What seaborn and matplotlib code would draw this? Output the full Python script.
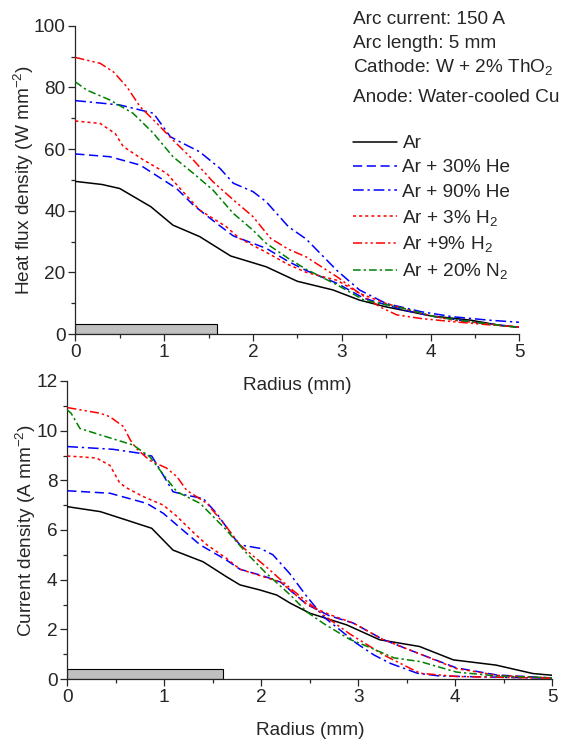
import numpy as np
import pandas as pd
import seaborn as sns
import matplotlib
matplotlib.use('Agg')
import matplotlib.pyplot as plt
from matplotlib.ticker import MultipleLocator

sns.set_style('ticks')
plt.rcParams['font.family'] = ['Liberation Sans', 'DejaVu Sans']
plt.rcParams['mathtext.fontset'] = 'custom'
plt.rcParams['mathtext.rm'] = 'Liberation Sans'
plt.rcParams['mathtext.it'] = 'Liberation Sans'
plt.rcParams['mathtext.default'] = 'regular'

fs = 13.7

# series labels / styles
labels = ['Ar', 'Ar + 30% He', 'Ar + 90% He', 'Ar + 3% H$_2$', 'Ar +9% H$_2$', 'Ar + 20% N$_2$']
colors = ['black', '#0000ff', '#0000ff', '#ff0000', '#ff0000', '#008000']
styles = ['-', (0, (6, 3)), (0, (7, 2.5, 1.5, 2.5)), (0, (2, 2)), (0, (6, 2, 1.5, 2, 1.5, 2)), (0, (5, 2, 1.5, 2))]

# heat flux density (W mm^-2)
ar_hf_x = [0, 0.3, 0.5, 0.85, 1.1, 1.4, 1.75, 2.15, 2.5, 2.9, 3.2, 3.5, 4.0, 4.45, 4.8, 5.0]
ar_hf_y = [49.5, 48.5, 47.2, 41.3, 35.3, 31.6, 25.3, 21.8, 17.1, 14.3, 11.0, 8.8, 5.9, 4.5, 2.7, 2.2]
he30_hf_x = [0, 0.39, 0.73, 0.99, 1.14, 1.33, 1.59, 1.78, 2.0, 2.15, 2.4, 2.6, 2.95, 3.25, 3.7, 4.05, 4.5, 5.0]
he30_hf_y = [58.4, 57.5, 54.8, 50.0, 47.2, 41.8, 35.9, 31.8, 29.4, 27.8, 23.5, 20.6, 16.4, 11.6, 7.8, 5.6, 3.8, 2.2]
he90_hf_x = [0, 0.5, 0.88, 1.07, 1.14, 1.4, 1.63, 1.78, 2.0, 2.15, 2.4, 2.6, 2.95, 3.2, 3.5, 3.9, 4.25, 4.65, 5.0]
he90_hf_y = [75.7, 74.3, 71.6, 64.0, 62.9, 59.1, 53.7, 48.9, 46.2, 42.9, 34.8, 30.8, 20.5, 14.3, 9.9, 7.2, 5.6, 4.5, 3.8]
h3_hf_x = [0, 0.28, 0.45, 0.54, 0.77, 1.03, 1.18, 1.4, 1.7, 1.85, 2.15, 2.4, 2.6, 2.95, 3.2, 3.5, 3.9, 4.25, 5.0]
h3_hf_y = [69.1, 68.3, 65.0, 60.8, 56.4, 52.1, 47.2, 40.2, 34.8, 31.0, 26.5, 22.5, 20.0, 17.4, 13.2, 9.9, 6.6, 4.5, 2.2]
h9_hf_x = [0, 0.28, 0.43, 0.58, 0.73, 0.92, 1.1, 1.33, 1.55, 1.78, 2.0, 2.2, 2.4, 2.6, 2.95, 3.2, 3.43, 3.62, 3.9, 4.25, 4.65, 5.0]
h9_hf_y = [89.7, 87.8, 85.0, 80.2, 73.7, 68.3, 62.9, 56.4, 49.4, 43.5, 38.1, 31.0, 27.5, 25.0, 18.5, 13.2, 8.8, 6.2, 5.0, 4.0, 3.0, 2.3]
n2_hf_x = [0, 0.13, 0.39, 0.65, 0.88, 1.1, 1.33, 1.55, 1.78, 2.0, 2.15, 2.4, 2.6, 2.95, 3.25, 3.7, 4.05, 4.45, 5.0]
n2_hf_y = [81.8, 79.1, 75.9, 71.6, 65.1, 57.5, 52.1, 46.7, 39.1, 33.7, 29.4, 24.5, 21.0, 15.9, 11.0, 8.3, 5.6, 4.0, 2.1]

# current density (A mm^-2)
ar_cd_x = [0, 0.34, 0.61, 0.87, 1.09, 1.4, 1.64, 1.78, 1.99, 2.16, 2.3, 2.5, 2.88, 3.22, 3.63, 3.98, 4.42, 4.8, 5.0]
ar_cd_y = [6.94, 6.74, 6.4, 6.07, 5.19, 4.72, 4.12, 3.79, 3.58, 3.38, 3.05, 2.65, 2.18, 1.58, 1.31, 0.77, 0.56, 0.22, 0.15]
he30_cd_x = [0, 0.44, 0.82, 0.99, 1.13, 1.37, 1.64, 1.78, 2.02, 2.2, 2.47, 2.7, 2.95, 3.25, 3.64, 4.01, 4.43, 5.0]
he30_cd_y = [7.58, 7.48, 7.07, 6.67, 6.2, 5.4, 4.79, 4.42, 4.15, 3.9, 3.0, 2.55, 2.25, 1.6, 1.0, 0.45, 0.16, 0.04]
he90_cd_x = [0, 0.47, 0.75, 0.87, 0.96, 1.09, 1.23, 1.4, 1.54, 1.71, 1.78, 1.99, 2.12, 2.29, 2.47, 2.64, 2.81, 2.98, 3.16, 3.33, 3.61, 3.84, 5.0]
he90_cd_y = [9.36, 9.25, 9.09, 8.98, 8.4, 7.54, 7.4, 7.27, 6.67, 5.73, 5.4, 5.26, 5.0, 4.26, 3.32, 2.51, 1.98, 1.44, 0.97, 0.63, 0.23, 0.12, 0.03]
h3_cd_x = [0, 0.3, 0.44, 0.54, 0.61, 0.78, 0.99, 1.13, 1.3, 1.44, 1.64, 1.78, 2.02, 2.2, 2.47, 2.7, 2.95, 3.25, 3.64, 4.01, 4.43, 5.0]
h3_cd_y = [8.98, 8.9, 8.6, 7.9, 7.7, 7.35, 7.0, 6.55, 5.9, 5.4, 4.86, 4.42, 4.12, 3.9, 3.0, 2.6, 2.25, 1.6, 1.0, 0.42, 0.15, 0.04]
h9_cd_x = [0, 0.34, 0.44, 0.58, 0.65, 0.71, 0.85, 1.02, 1.13, 1.23, 1.44, 1.64, 1.78, 2.05, 2.3, 2.47, 2.64, 2.91, 3.26, 3.57, 3.64, 4.02, 5.0]
h9_cd_y = [10.93, 10.7, 10.56, 10.16, 9.62, 9.29, 8.8, 8.5, 8.15, 7.6, 7.07, 6.13, 5.4, 4.52, 3.65, 3.12, 2.58, 1.82, 0.97, 0.36, 0.23, 0.1, 0.03]
n2_cd_x = [0, 0.04, 0.13, 0.34, 0.68, 0.85, 1.02, 1.13, 1.37, 1.64, 1.85, 2.05, 2.3, 2.47, 2.64, 2.91, 3.1, 3.37, 3.64, 4.01, 4.43, 5.0]
n2_cd_y = [10.83, 10.7, 10.09, 9.83, 9.42, 8.95, 8.08, 7.54, 7.07, 6.0, 5.06, 4.26, 3.38, 2.7, 2.24, 1.6, 1.3, 0.85, 0.7, 0.28, 0.12, 0.05]

# cathode (grey bar on the axis)
cathode_radius = 1.6
cathode_hf = 3.3
cathode_cd = 0.4

hf_series = [(ar_hf_x, ar_hf_y), (he30_hf_x, he30_hf_y), (he90_hf_x, he90_hf_y),
             (h3_hf_x, h3_hf_y), (h9_hf_x, h9_hf_y), (n2_hf_x, n2_hf_y)]
cd_series = [(ar_cd_x, ar_cd_y), (he30_cd_x, he30_cd_y), (he90_cd_x, he90_cd_y),
             (h3_cd_x, h3_cd_y), (h9_cd_x, h9_cd_y), (n2_cd_x, n2_cd_y)]

fig = plt.figure(figsize=(5.68, 7.40), dpi=100)
ax_top = fig.add_axes([75.3 / 568, 1 - 334 / 740, 444 / 568, 308.3 / 740])
ax_bot = fig.add_axes([67.3 / 568, 1 - 679 / 740, 485 / 568, 298 / 740])
# the top x label sits inside the lower panel's area, keep it visible
ax_bot.patch.set_alpha(0)


def draw(ax, series, bar_h, ymax, ymaj, ymin):
    ax.bar(0, bar_h, width=cathode_radius, align='edge', color='#c0c0c0',
           edgecolor='black', linewidth=0.8, zorder=1)
    for (xs, ys), lab, col, ls in zip(series, labels, colors, styles):
        sns.lineplot(x=xs, y=ys, ax=ax, color=col, linestyle=ls, linewidth=1.1,
                     label=lab, sort=False, estimator=None, zorder=3)
    ax.set_xlim(0, 5)
    ax.set_ylim(0, ymax)
    ax.xaxis.set_major_locator(MultipleLocator(1))
    ax.xaxis.set_minor_locator(MultipleLocator(0.5))
    ax.yaxis.set_major_locator(MultipleLocator(ymaj))
    ax.yaxis.set_minor_locator(MultipleLocator(ymin))
    ax.tick_params(which='major', direction='out', length=5, width=0.9, labelsize=fs, pad=2)
    ax.tick_params(which='minor', direction='out', length=3, width=0.9)
    sns.despine(ax=ax)
    for sp in ax.spines.values():
        sp.set_linewidth(0.9)
    ax.set_xlabel('Radius (mm)', fontsize=fs, labelpad=12)


draw(ax_top, hf_series, cathode_hf, 100, 20, 10)
draw(ax_bot, cd_series, cathode_cd, 12, 2, 1)

ax_top.set_ylabel('Heat flux density (W mm$^{-2}$)', fontsize=fs, labelpad=-2)
ax_bot.set_ylabel('Current density (A mm$^{-2}$)', fontsize=fs, labelpad=-1)
ax_bot.get_legend().remove()

handles, labs = ax_top.get_legend_handles_labels()
ax_top.legend(handles, labs, loc='upper left', bbox_to_anchor=(353 / 568, 1 - 135 / 740),
              bbox_transform=fig.transFigure, frameon=False, fontsize=fs,
              handlelength=2.3, handletextpad=0.3, labelspacing=0.36,
              borderpad=0, borderaxespad=0)

info = ['Arc current: 150 A', 'Arc length: 5 mm', 'Cathode: W + 2% ThO$_2$', 'Anode: Water-cooled Cu']
info_y = [19, 43, 67, 98]
for txt, yy in zip(info, info_y):
    fig.text(353 / 568, 1 - yy / 740, txt, fontsize=fs, va='center', ha='left')

fig.savefig('out.png', dpi=100)
